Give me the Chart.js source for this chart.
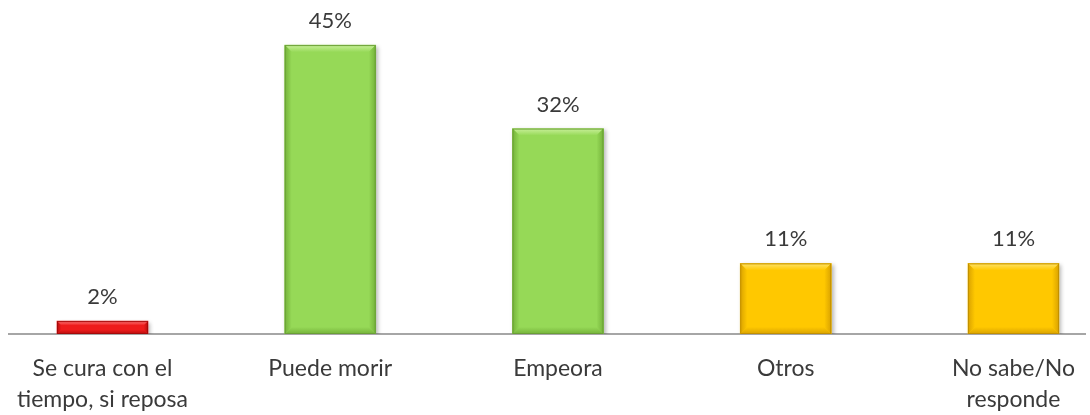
<!DOCTYPE html>
<html>
<head>
<meta charset="utf-8">
<script src="https://cdn.jsdelivr.net/npm/chart.js@4/dist/chart.umd.min.js"></script>
<style>
  html, body { margin: 0; padding: 0; background: #fff; }
  #wrap { width: 1090px; height: 415px; }
</style>
</head>
<body>
<div id="wrap"><canvas id="chart" width="1090" height="415"></canvas></div>
<script>
// categories and percentages
const categories = [
    ["Se cura con el", "tiempo, si reposa"],
    ["Puede morir"],
    ["Empeora"],
    ["Otros"],
    ["No sabe/No", "responde"]
];
const values = [2, 45, 32, 11, 11];

// fill / light edge / dark edge / outline per bar
const barStyles = [
    { fill: "#ee1c1c", light: "#ff7a7a", dark: "#b80e0e", line: "#a50a0a" },
    { fill: "#96d957", light: "#c9f09a", dark: "#74b23a", line: "#6a9f36" },
    { fill: "#96d957", light: "#c9f09a", dark: "#74b23a", line: "#6a9f36" },
    { fill: "#ffc800", light: "#ffe36a", dark: "#d9a200", line: "#c29000" },
    { fill: "#ffc800", light: "#ffe36a", dark: "#d9a200", line: "#c29000" }
];

const textColor = "#3a3a3a";
const fontFamily = "Lato, 'Open Sans', sans-serif";

// soft drop shadow under the bars
const shadowPlugin = {
    id: "barShadow",
    beforeDatasetsDraw: (chart) => {
        const ctx = chart.ctx;
        ctx.save();
        ctx.shadowColor = "rgba(0,0,0,0.28)";
        ctx.shadowBlur = 4;
        ctx.shadowOffsetX = 2;
        ctx.shadowOffsetY = 2;
    },
    afterDatasetsDraw: (chart) => {
        chart.ctx.restore();
    }
};

// bevelled edges + value labels
const bevelPlugin = {
    id: "bevel",
    afterDatasetsDraw: (chart) => {
        const ctx = chart.ctx;
        const meta = chart.getDatasetMeta(0);
        meta.data.forEach((bar, i) => {
            const st = barStyles[i];
            const left = bar.x - bar.width / 2;
            const right = bar.x + bar.width / 2;
            const top = bar.y;
            const bottom = bar.base;
            const h = bottom - top;
            const b = Math.min(7, h / 3);

            ctx.save();
            // top edge
            let g = ctx.createLinearGradient(0, top, 0, top + b);
            g.addColorStop(0, st.light);
            g.addColorStop(1, st.fill);
            ctx.fillStyle = g;
            ctx.beginPath();
            ctx.moveTo(left, top);
            ctx.lineTo(right, top);
            ctx.lineTo(right - b, top + b);
            ctx.lineTo(left + b, top + b);
            ctx.closePath();
            ctx.fill();

            // bottom edge
            g = ctx.createLinearGradient(0, bottom - b, 0, bottom);
            g.addColorStop(0, st.fill);
            g.addColorStop(1, st.dark);
            ctx.fillStyle = g;
            ctx.beginPath();
            ctx.moveTo(left, bottom);
            ctx.lineTo(right, bottom);
            ctx.lineTo(right - b, bottom - b);
            ctx.lineTo(left + b, bottom - b);
            ctx.closePath();
            ctx.fill();

            // left edge
            g = ctx.createLinearGradient(left, 0, left + b, 0);
            g.addColorStop(0, st.dark);
            g.addColorStop(1, st.fill);
            ctx.fillStyle = g;
            ctx.beginPath();
            ctx.moveTo(left, top);
            ctx.lineTo(left + b, top + b);
            ctx.lineTo(left + b, bottom - b);
            ctx.lineTo(left, bottom);
            ctx.closePath();
            ctx.fill();

            // right edge
            g = ctx.createLinearGradient(right - b, 0, right, 0);
            g.addColorStop(0, st.fill);
            g.addColorStop(1, st.dark);
            ctx.fillStyle = g;
            ctx.beginPath();
            ctx.moveTo(right, top);
            ctx.lineTo(right - b, top + b);
            ctx.lineTo(right - b, bottom - b);
            ctx.lineTo(right, bottom);
            ctx.closePath();
            ctx.fill();

            // outline
            ctx.strokeStyle = st.line;
            ctx.lineWidth = 1;
            ctx.strokeRect(left + 0.5, top + 0.5, bar.width - 1, h - 1);

            // value label
            ctx.fillStyle = textColor;
            ctx.font = "22px " + fontFamily;
            ctx.textAlign = "center";
            ctx.textBaseline = "middle";
            ctx.fillText(values[i] + "%", bar.x, top - 24);
            ctx.restore();
        });
    }
};

const ctx = document.getElementById("chart").getContext("2d");
const chart = new Chart(ctx, {
    type: "bar",
    data: {
        datasets: [{
            data: values.map((v, i) => ({ x: i, y: v })),
            backgroundColor: barStyles.map(s => s.fill),
            borderWidth: 0,
            barThickness: 91
        }]
    },
    plugins: [shadowPlugin, bevelPlugin],
    options: {
        responsive: false,
        animation: false,
        layout: { padding: { left: 9, right: 5, top: 13, bottom: 0 } },
        plugins: {
            legend: { display: false },
            tooltip: { enabled: false }
        },
        scales: {
            x: {
                type: "linear",
                offset: false,
                bounds: "ticks",
                min: -0.4105,
                max: 4.314,
                afterBuildTicks: (scale) => {
                    scale.ticks = categories.map((c, i) => ({ value: i }));
                },
                afterFit: (scale) => {
                    // fixed height, and don't let the outer labels shrink the plot
                    scale.height = 81;
                    scale.paddingLeft = 0;
                    scale.paddingRight = 0;
                },
                grid: { display: false, drawTicks: false },
                border: { display: true, color: "#a6a6a6", width: 2 },
                ticks: {
                    autoSkip: false,
                    maxRotation: 0,
                    padding: 19,
                    color: textColor,
                    font: { size: 23, family: fontFamily, lineHeight: 1.35 },
                    callback: (v) => categories[v]
                }
            },
            y: {
                display: false,
                min: 0,
                max: 50
            }
        }
    }
});
</script>
</body>
</html>
